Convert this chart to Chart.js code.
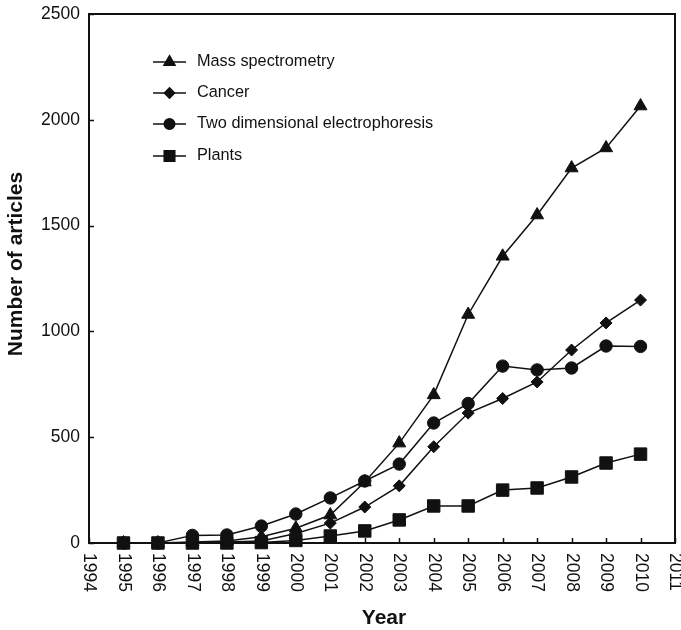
<!DOCTYPE html>
<html>
<head>
<meta charset="utf-8">
<script src="https://cdn.jsdelivr.net/npm/chart.js@4/dist/chart.umd.min.js"></script>
<style>
  html, body { margin: 0; padding: 0; background: #fff; }
  #wrap { width: 681px; height: 630px; }
</style>
</head>
<body>
<div id="wrap"><canvas id="c" width="681" height="630"></canvas></div>
<script>
// article counts per year
const YEARS = [1995, 1996, 1997, 1998, 1999, 2000, 2001, 2002, 2003, 2004, 2005, 2006, 2007, 2008, 2009, 2010];
const MASS_SPEC = [0, 0, 5, 10, 30, 70, 132, 288, 472, 700, 1080, 1355, 1550, 1772, 1867, 2065];
const CANCER    = [0, 0, 0, 5, 10, 45, 94, 170, 270, 455, 614, 683, 761, 912, 1040, 1148];
const TWO_DE    = [0, 0, 36, 38, 80, 137, 213, 293, 373, 567, 659, 836, 818, 827, 931, 929];
const PLANTS    = [0, 0, 0, 0, 2, 12, 33, 57, 109, 175, 175, 250, 260, 312, 378, 420];
const SERIES_NAMES = ['Mass spectrometry', 'Cancer', 'Two dimensional electrophoresis', 'Plants'];
const X_TICKS = [1994, 1995, 1996, 1997, 1998, 1999, 2000, 2001, 2002, 2003, 2004, 2005, 2006, 2007, 2008, 2009, 2010, 2011];
const Y_TICKS = [0, 500, 1000, 1500, 2000, 2500];

const FONT = '"Liberation Sans", Arial, sans-serif';

function pts(vals) { return YEARS.map((y, i) => ({ x: y, y: vals[i] })); }

const styles = [
  { pointStyle: 'triangle', pointRadius: 7.5 },
  { pointStyle: 'rectRot', pointRadius: 6 },
  { pointStyle: 'circle', pointRadius: 6.2 },
  { pointStyle: 'rect', pointRadius: 8.8 }
];

const datasets = [MASS_SPEC, CANCER, TWO_DE, PLANTS].map((vals, i) => ({
  label: SERIES_NAMES[i],
  data: pts(vals),
  borderColor: '#111',
  backgroundColor: '#111',
  borderWidth: 1.5,
  pointBorderWidth: 1,
  pointBorderColor: '#111',
  pointBackgroundColor: '#111',
  pointStyle: styles[i].pointStyle,
  pointRadius: styles[i].pointRadius,
  tension: 0,
  clip: false
}));

// axis decorations: box, inward ticks, labels, titles, in-plot legend
const decor = {
  id: 'decor',
  afterDraw(chart) {
    const ctx = chart.ctx, a = chart.chartArea;
    const xs = chart.scales.x, ys = chart.scales.y;
    ctx.save();
    ctx.strokeStyle = '#111';
    ctx.fillStyle = '#111';
    ctx.lineWidth = 2;
    ctx.strokeRect(a.left, a.top, a.right - a.left, a.bottom - a.top);

    ctx.lineWidth = 1.5;
    ctx.beginPath();
    X_TICKS.forEach(t => {
      const px = Math.round(xs.getPixelForValue(t)) + 0.5;
      ctx.moveTo(px, a.bottom); ctx.lineTo(px, a.bottom - 5);
    });
    Y_TICKS.forEach(t => {
      const py = Math.round(ys.getPixelForValue(t)) + 0.5;
      ctx.moveTo(a.left, py); ctx.lineTo(a.left + 5, py);
    });
    ctx.stroke();

    ctx.font = '17.5px ' + FONT;
    ctx.textAlign = 'right';
    ctx.textBaseline = 'middle';
    Y_TICKS.forEach(t => ctx.fillText(String(t), a.left - 9, ys.getPixelForValue(t)));

    // x labels rotated clockwise (read top to bottom)
    X_TICKS.forEach(t => {
      ctx.save();
      ctx.translate(xs.getPixelForValue(t), a.bottom + 10);
      ctx.rotate(Math.PI / 2);
      ctx.textAlign = 'left';
      ctx.textBaseline = 'middle';
      ctx.fillText(String(t), 0, 0);
      ctx.restore();
    });

    ctx.font = 'bold 21px ' + FONT;
    ctx.textAlign = 'center';
    ctx.textBaseline = 'middle';
    ctx.fillText('Year', 384, 618);
    ctx.save();
    ctx.translate(16, 264);
    ctx.rotate(-Math.PI / 2);
    ctx.fillText('Number of articles', 0, 0);
    ctx.restore();

    // legend
    const rowsY = [62, 93, 124, 156];
    ctx.font = '16.3px ' + FONT;
    ctx.textAlign = 'left';
    chart.data.datasets.forEach((ds, i) => {
      const y = rowsY[i];
      ctx.lineWidth = 1.5;
      ctx.beginPath();
      ctx.moveTo(153, y); ctx.lineTo(186, y);
      ctx.stroke();
      if (Chart.helpers && Chart.helpers.drawPoint) {
        Chart.helpers.drawPoint(ctx, { pointStyle: ds.pointStyle, radius: ds.pointRadius * 0.85, borderWidth: 1, rotation: 0 }, 169.5, y);
        ctx.fill();
      }
      ctx.fillText(ds.label, 197, y);
    });
    ctx.restore();
  }
};

new Chart(document.getElementById('c'), {
  type: 'line',
  data: { datasets },
  options: {
    responsive: false,
    animation: false,
    layout: { autoPadding: false, padding: { left: 89, right: 6, top: 14, bottom: 87 } },
    plugins: { legend: { display: false }, tooltip: { enabled: false } },
    scales: {
      x: {
        type: 'linear', min: 1994, max: 2011,
        ticks: { display: false, stepSize: 1 },
        grid: { display: false, drawTicks: false },
        border: { display: false },
        title: { display: false }
      },
      y: {
        min: 0, max: 2500,
        ticks: { display: false, stepSize: 500 },
        grid: { display: false, drawTicks: false },
        border: { display: false },
        title: { display: false }
      }
    }
  },
  plugins: [decor]
});
</script>
</body>
</html>
